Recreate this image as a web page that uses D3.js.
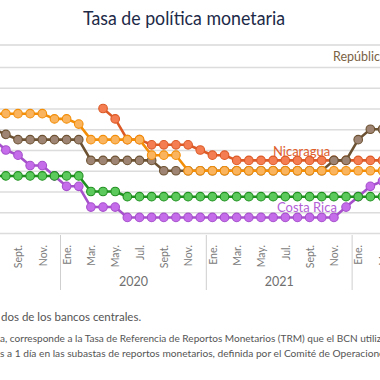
<!DOCTYPE html>
<html><head><meta charset="utf-8">
<script src="https://cdn.jsdelivr.net/npm/d3@7"></script>
<style>
html,body{margin:0;padding:0;background:#fff;overflow:hidden;}
svg{display:block;font-family:Lato,"Open Sans",sans-serif;}
</style></head>
<body><svg id="c" width="380" height="380"></svg>
<script>
// Monthly periods (Jul 2019 – Mar 2022)
const periods = ["2019-07","2019-08","2019-09","2019-10","2019-11","2019-12",
  "2020-01","2020-02","2020-03","2020-04","2020-05","2020-06","2020-07","2020-08","2020-09","2020-10","2020-11","2020-12",
  "2021-01","2021-02","2021-03","2021-04","2021-05","2021-06","2021-07","2021-08","2021-09","2021-10","2021-11","2021-12",
  "2022-01","2022-02","2022-03"];
const monthLabels = ["Ene.","Feb.","Mar.","Abr.","May.","Jun.","Jul.","Ago.","Sept.","Oct.","Nov.","Dic."];
const years = ["2019","2020","2021","2022"];
const yTicks = [0,1,2,3,4,5,6,7,8];

// Policy rates (%)
const nicaragua = [null,null,null,null,null,null,null,null,null,6.0,5.5,4.5,4.5,4.25,4.25,4.25,4.25,4.0,3.75,3.75,3.5,3.5,3.5,3.5,3.5,3.5,3.5,3.5,3.5,3.5,3.5,3.5,3.5];
const republicaDominicana = [5.0,4.75,4.5,4.5,4.5,4.5,4.5,4.5,3.5,3.5,3.5,3.5,3.5,3.5,3.0,3.0,3.0,3.0,3.0,3.0,3.0,3.0,3.0,3.0,3.0,3.0,3.0,3.0,3.5,3.5,4.5,5.0,5.0];
const honduras = [5.75,5.75,5.75,5.75,5.75,5.5,5.5,5.25,4.5,4.5,4.5,4.5,4.5,3.75,3.75,3.75,3.0,3.0,3.0,3.0,3.0,3.0,3.0,3.0,3.0,3.0,3.0,3.0,3.0,3.0,3.0,3.0,3.0];
const costaRica = [4.5,4.0,3.75,3.25,3.25,2.75,2.25,2.25,1.25,1.25,1.25,0.75,0.75,0.75,0.75,0.75,0.75,0.75,0.75,0.75,0.75,0.75,0.75,0.75,0.75,0.75,0.75,0.75,0.75,1.25,1.75,2.25,2.5];
const guatemala = [2.75,2.75,2.75,2.75,2.75,2.75,2.75,2.75,2.0,2.0,2.0,1.75,1.75,1.75,1.75,1.75,1.75,1.75,1.75,1.75,1.75,1.75,1.75,1.75,1.75,1.75,1.75,1.75,1.75,1.75,1.75,1.75,1.75];

const series = [
  {name:"Nicaragua", values:nicaragua, line:"#dc5a26", fill:"#f47d52"},
  {name:"República Dominicana", values:republicaDominicana, line:"#6c5232", fill:"#9e8472"},
  {name:"Honduras", values:honduras, line:"#f28e08", fill:"#fab45e"},
  {name:"Costa Rica", values:costaRica, line:"#a650cc", fill:"#c46cea"},
  {name:"Guatemala", values:guatemala, line:"#1f901f", fill:"#5cc95c"}
];

const svg = d3.select("#c");
const W = 380;
const x = d3.scaleLinear().domain([2, 30]).range([18, 358.2]);
const y = d3.scaleLinear().domain([0, 8]).range([233, 67]);

// Title
svg.append("text").attr("x",184).attr("y",25).attr("text-anchor","middle")
  .attr("font-size",18.5).attr("fill","#1d2a48").attr("textLength",202).attr("lengthAdjust","spacingAndGlyphs")
  .text("Tasa de política monetaria");
svg.append("line").attr("x1",0).attr("x2",W).attr("y1",45).attr("y2",45)
  .attr("stroke","#e2e2e2").attr("stroke-width",2);

// Gridlines
const grid = svg.append("g")
  .call(d3.axisRight(y).tickValues(yTicks).tickSize(W).tickFormat(""));
grid.select(".domain").remove();
grid.selectAll(".tick line").attr("stroke","#dcdcdc").attr("stroke-width",1.3);

// X axis labels
const idx = d3.range(periods.length);
const xAxis = svg.append("g").attr("transform","translate(0,233)")
  .call(d3.axisBottom(x).tickValues(idx.filter(i => +periods[i].slice(5) % 2 === 1))
    .tickSize(0).tickFormat(i => monthLabels[+periods[i].slice(5) - 1]));
xAxis.select(".domain").remove();
xAxis.selectAll("text").attr("transform","rotate(-90)").attr("text-anchor","end")
  .attr("x",-12).attr("y",0).attr("dy","0.36em").attr("font-size",10.5).attr("fill","#7a7a7a")
  .attr("font-family","Lato,sans-serif");

// Year separators & labels
const yearStarts = idx.filter(i => periods[i].slice(5) === "01");
yearStarts.forEach(i => {
  svg.append("line").attr("x1",x(i-0.5)).attr("x2",x(i-0.5)).attr("y1",235).attr("y2",290)
    .attr("stroke","#cfcfcf").attr("stroke-width",1);
});
years.forEach(yr => {
  const ids = idx.filter(i => periods[i].slice(0,4) === yr);
  if (ids.length === 12) {
    svg.append("text").attr("x",(x(ids[0]) + x(ids[11]))/2).attr("y",286).attr("text-anchor","middle")
      .attr("font-size",12.5).attr("fill","#6f6f6f").text(yr);
  }
});

// Lines and dots
const line = d3.line().defined(d => d.v != null).x(d => x(d.i)).y(d => y(d.v));
series.forEach(s => {
  const pts = s.values.map((v,i) => ({i, v}));
  const g = svg.append("g");
  g.append("path").datum(pts).attr("d", line).attr("fill","none")
    .attr("stroke", s.line).attr("stroke-width", 2.6).attr("stroke-linejoin","round");
  g.selectAll("circle").data(pts.filter(d => d.v != null)).join("circle")
    .attr("cx", d => x(d.i)).attr("cy", d => y(d.v)).attr("r", 4.3)
    .attr("fill", s.fill).attr("stroke", s.line).attr("stroke-width", 1.1);
});

// Series labels
svg.append("text").attr("x",333).attr("y",61).attr("font-size",12.5).attr("fill","#7b6244").text("República Dominicana");
svg.append("text").attr("x",273).attr("y",155.5).attr("font-size",13).attr("fill","#e0602c").text("Nicaragua");
svg.append("text").attr("x",277).attr("y",212).attr("font-size",13).attr("fill","#b35ed6").text("Costa Rica");

// Footnotes (visible fragments)
svg.append("text").attr("x",1).attr("y",321).attr("font-size",11.5).attr("fill","#555").text("dos de los bancos centrales.");
svg.append("text").attr("x",0).attr("y",342).attr("font-size",10.05).attr("fill","#555")
  .text("a, corresponde a la Tasa de Referencia de Reportos Monetarios (TRM) que el BCN utiliza");
svg.append("text").attr("x",0).attr("y",357).attr("font-size",10.2).attr("fill","#555")
  .text("s a 1 día en las subastas de reportos monetarios, definida por el Comité de Operaciones");
</script></body></html>
